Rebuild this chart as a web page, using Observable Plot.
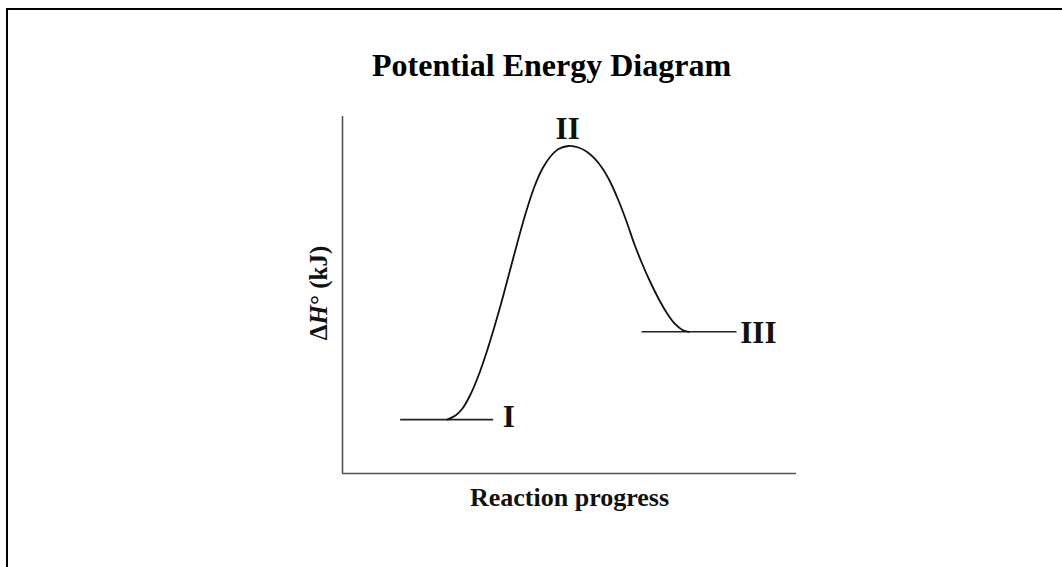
<!DOCTYPE html>
<html>
<head>
<meta charset="utf-8">
<script src="https://cdn.jsdelivr.net/npm/d3@7"></script>
<script src="https://cdn.jsdelivr.net/npm/@observablehq/plot@0.6"></script>
<style>
  html, body { margin: 0; padding: 0; background: #fff; overflow: hidden; }
  #wrap { position: relative; width: 1062px; height: 567px; }
  #frame { position: absolute; left: 6px; top: 8px; width: 1100px; height: 600px;
           border-top: 2px solid #000; border-left: 2px solid #000; }
  #chart { position: absolute; left: 0; top: 0; }
</style>
</head>
<body>
<div id="wrap"><div id="frame"></div><div id="chart"></div></div>
<script>
// Reaction coordinate (0–100) and energy (0–100)
const curveX = [23.06, 24.89, 26.43, 28.19, 29.96, 31.72, 33.48, 35.24, 37.00, 38.77, 40.53, 42.29, 44.05, 45.81, 47.58, 49.78,
                51.98, 53.74, 55.51, 57.27, 59.03, 60.79, 62.56, 64.32, 66.08, 67.84, 69.60, 71.37, 73.13, 74.89, 76.28];
const curveY = [15.10, 16.25, 18.21, 22.13, 27.45, 33.89, 41.18, 49.02, 57.42, 65.83, 73.67, 80.39, 85.43, 88.80, 90.90, 91.74,
                91.32, 90.20, 88.24, 85.43, 81.51, 76.47, 70.59, 64.15, 58.54, 53.50, 49.02, 45.10, 42.02, 40.20, 39.69];

const levelNames = ["I", "III"];
const levelX1 = [12.8, 66.0];
const levelX2 = [33.3, 86.9];
const levelY = [15.1, 39.7];

const labelText = ["I", "II", "III"];
const labelX = [36.6, 49.6, 91.6];
const labelY = [15.7, 96.4, 39.3];

const titleText = "Potential Energy Diagram";
const xLabel = "Reaction progress";

const curve = curveX.map((x, i) => ({x, y: curveY[i]}));
const levels = levelNames.map((n, i) => ({name: n, x1: levelX1[i], x2: levelX2[i], y: levelY[i]}));
const labels = labelText.map((t, i) => ({t, x: labelX[i], y: labelY[i]}));

const serif = "'Liberation Serif', 'Times New Roman', serif";

const chart = Plot.plot({
  width: 1062,
  height: 567,
  marginLeft: 342,
  marginRight: 266,
  marginTop: 116,
  marginBottom: 94,
  x: {domain: [0, 100], axis: null},
  y: {domain: [0, 100], axis: null},
  marks: [
    Plot.ruleX([0], {y1: 0, y2: 100, stroke: "#555", strokeWidth: 1.6}),
    Plot.ruleY([0], {x1: 0, x2: 100, stroke: "#555", strokeWidth: 1.6}),
    Plot.ruleY(levels, {x1: "x1", x2: "x2", y: "y", stroke: "#222", strokeWidth: 1.6}),
    Plot.line(curve, {x: "x", y: "y", curve: "catmull-rom", stroke: "#111", strokeWidth: 1.8}),
    Plot.text(labels, {x: "x", y: "y", text: "t", fontFamily: serif, fontWeight: "bold", fontSize: 31, fill: "#111", textAnchor: "middle", lineAnchor: "middle"}),
    Plot.text([titleText], {frameAnchor: "top", dx: -18, dy: -51, fontFamily: serif, fontWeight: "bold", fontSize: 32, fill: "#000", textAnchor: "middle", lineAnchor: "middle"}),
    Plot.text([xLabel], {frameAnchor: "bottom", dy: 24, fontFamily: serif, fontWeight: "bold", fontSize: 26, fill: "#111", textAnchor: "middle", lineAnchor: "middle"}),
    Plot.text(["ΔH° (kJ)"], {frameAnchor: "left", dx: -24, dy: -2, rotate: -90, fontFamily: serif, fontWeight: "bold", fontSize: 25, fill: "#111", textAnchor: "middle", lineAnchor: "middle", className: "ylab"})
  ]
});

document.getElementById("chart").appendChild(chart);

// Italicise the H in the y-axis label
const yt = d3.select(chart).select("g.ylab text");
yt.text(null);
yt.append("tspan").text("Δ");
yt.append("tspan").attr("font-style", "italic").text("H");
yt.append("tspan").text("° (kJ)");
</script>
</body>
</html>
